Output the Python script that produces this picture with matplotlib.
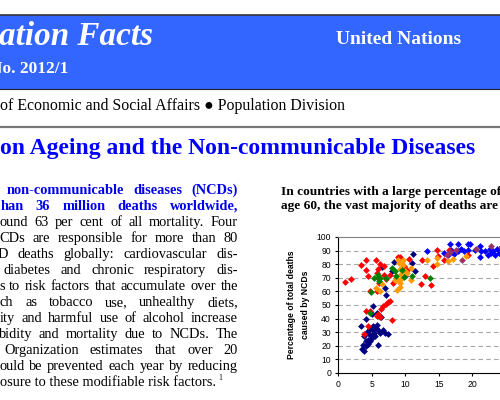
import matplotlib
matplotlib.use("Agg")
import matplotlib.pyplot as plt
from matplotlib.patches import Rectangle
from matplotlib.lines import Line2D

# scatter data: percentage of population aged 60+ vs. share of deaths caused by NCDs
red_x = [1.1, 1.9, 3.4, 4.1, 4.1, 4.4, 5.7, 6.0, 5.8, 6.2, 5.9, 6.1, 5.8, 4.8, 6.9, 6.9, 7.2, 7.7,
         8.2, 8.9, 9.3, 9.8, 10.2, 10.5, 12.5, 12.4, 13.0, 13.9, 14.1, 14.7, 14.9, 15.8, 16.5,
         6.0, 6.4, 6.7, 7.1, 7.4, 7.8, 6.3, 5.8, 8.0, 4.1, 4.7, 3.8, 4.5, 19.3]
red_y = [66.7, 69.0, 79.4, 83.3, 75.7, 71.6, 83.0, 76.7, 73.5, 80.0, 70.0, 66.0, 60.5, 60.0, 79.0,
         72.0, 69.4, 72.0, 66.4, 85.3, 85.0, 79.0, 76.0, 83.8, 83.3, 65.4, 71.6, 64.7, 78.7, 90.7,
         86.3, 82.8, 90.7, 43.6, 47.3, 49.0, 50.5, 52.0, 53.2, 41.2, 41.7, 39.2, 45.3, 45.3, 28.7,
         34.3, 86.5]

orange_x = [5.6, 6.2, 6.6, 8.9, 8.7, 9.0, 9.2, 9.3, 8.8, 9.5, 9.6, 9.7, 10.0, 10.3, 10.8, 10.8,
            13.2, 14.7, 14.8, 16.3, 17.1, 19.1, 9.3, 9.4, 8.5, 9.1]
orange_y = [62.5, 60.0, 65.4, 82.8, 71.0, 68.6, 66.0, 63.0, 60.8, 69.9, 83.3, 79.7, 74.8, 73.5,
            68.6, 77.2, 83.3, 84.6, 80.0, 82.1, 83.8, 86.3, 76.5, 73.0, 68.6, 80.9]

green_x = [4.9, 4.7, 5.3, 5.9, 6.1, 6.2, 7.2, 8.1, 8.5, 9.5, 9.8, 11.0, 13.7, 8.6]
green_y = [59.8, 44.0, 69.9, 72.3, 67.4, 69.9, 69.9, 77.0, 74.8, 76.0, 70.3, 71.6, 69.9, 71.6]

navy_x = [6.5, 8.3, 8.0, 9.9, 11.0, 11.4, 11.1, 7.0, 7.1,
          5.2, 5.8, 6.4, 5.0, 4.2, 3.4, 5.8, 4.3, 4.7, 5.2, 5.6, 6.0, 6.2, 5.5, 5.0, 4.4, 3.9,
          3.7, 3.6, 3.9, 4.2, 4.5, 4.8, 6.0, 7.5, 7.0, 6.7, 5.3, 4.7, 5.2, 4.1]
navy_y = [77.9, 81.4, 74.8, 71.0, 80.9, 74.8, 87.7, 62.5, 57.6,
          49.0, 44.0, 41.0, 43.6, 39.7, 34.3, 35.5, 29.9, 32.4, 34.8, 33.0, 31.9, 29.4, 27.0,
          25.7, 24.5, 27.5, 20.8, 17.6, 15.9, 19.6, 21.3, 23.3, 20.8, 28.9, 29.4, 31.9, 29.4,
          27.7, 31.9, 23.3]

blue_x = [13.3, 16.8, 16.7, 17.8, 18.3, 18.7, 19.3, 19.7, 19.4, 20.4, 21.1, 21.3, 21.9, 21.1,
          22.6, 23.1, 23.6, 23.9, 23.4, 22.8, 22.3, 24.3, 17.3, 17.9, 16.3, 15.8, 24.8, 25.3]
blue_y = [89.5, 90.7, 94.9, 95.1, 91.2, 89.5, 95.1, 95.1, 90.7, 90.7, 93.6, 89.5, 89.5, 85.3,
          91.2, 89.5, 91.2, 88.2, 87.0, 88.2, 87.0, 90.2, 87.7, 89.5, 87.0, 88.2, 88.0, 90.5]

purple_x = [16.2, 17.6, 18.4, 20.6, 22.8, 24.3, 16.6]
purple_y = [87.0, 90.2, 82.8, 91.2, 93.1, 92.6, 88.7]

y_ticks = [0, 10, 20, 30, 40, 50, 60, 70, 80, 90, 100]
x_ticks = [0, 5, 10, 15, 20, 25, 30]

body_lines = [
    ("non-communicable diseases (NCDs)", 7, True),
    ("han 36 million deaths worldwide,", 0.5, True),
    ("ound 63 per cent of all mortality.  Four", -0.5, False),
    ("CDs are responsible for more than 80", -1, False),
    ("D deaths globally: cardiovascular dis-", -2, False),
    ("diabetes and chronic respiratory dis-", 3.3, False),
    ("s to risk factors that accumulate over the", -1, False),
    ("ch as tobacco use, unhealthy diets,", 0, False),
    ("ity and harmful use of alcohol increase", 0, False),
    ("bidity and mortality due to NCDs.  The", -1, False),
    ("Organization estimates that over 20", 4, False),
    ("ould be prevented each year by reducing", -1, False),
]
last_line = "osure to these modifiable risk factors."

W, H = 500, 400
serif = "Liberation Serif"
sans = "Liberation Sans"


def fx(px):
    return px / W


def fy(py):
    return 1 - py / H


fig = plt.figure(figsize=(5, 4), dpi=100)
fig.patch.set_facecolor("white")

# banner
fig.patches.append(Rectangle((0, fy(89)), 1, (89 - 15) / H, transform=fig.transFigure,
                             facecolor="#3366FF", edgecolor="none"))
fig.lines.append(Line2D([0, 1], [fy(14.5), fy(14.5)], transform=fig.transFigure, color="#333333", lw=1.2))
fig.lines.append(Line2D([0, 1], [fy(89), fy(89)], transform=fig.transFigure, color="#222222", lw=0.8))
fig.text(fx(-1), fy(45), "ation Facts", color="white", fontsize=23.9, fontweight="bold",
         fontstyle="italic", family=serif, va="baseline")
fig.text(fx(336), fy(44.3), "United Nations", color="white", fontsize=14, fontweight="bold",
         family=serif, va="baseline")
fig.text(fx(-10), fy(73.3), "No. 2012/1", color="white", fontsize=12.5, fontweight="bold",
         family=serif, va="baseline")

fig.text(fx(-0.5), fy(110), "of Economic and Social Affairs \u25cf Population Division", color="black",
         fontsize=11.4, family=serif, va="baseline")
fig.lines.append(Line2D([0, 1], [fy(127), fy(127)], transform=fig.transFigure, color="#777777", lw=1.6))
fig.text(fx(-0.5), fy(154), "on Ageing and the Non-communicable Diseases", color="#0000FF",
         fontsize=17.0, fontweight="bold", family=serif, va="baseline")

# justified body column
body_size = 10.4
renderer = fig.canvas.get_renderer()
right_edge = 238
for i, (line, start, bold) in enumerate(body_lines):
    base = 194 + i * 16.0
    words = [w for w in line.split(" ") if w]
    texts = []
    for w in words:
        t = fig.text(0, fy(base), w, fontsize=body_size, family=serif, va="baseline",
                     fontweight="bold" if bold else "normal",
                     color="#0000EE" if bold else "black")
        texts.append(t)
    widths = [t.get_window_extent(renderer).width for t in texts]
    gap = (right_edge - start - sum(widths)) / max(len(words) - 1, 1)
    x = start
    for t, wd in zip(texts, widths):
        t.set_x(fx(x))
        x += wd + gap

base = 194 + len(body_lines) * 16.0
fig.text(fx(-0.5), fy(base), last_line, fontsize=body_size, family=serif, va="baseline")
fig.text(fx(218), fy(base - 6), "1", fontsize=5.5, family=serif, va="baseline")

# chart title
fig.text(fx(281), fy(195), "In countries with a large percentage of people over", fontsize=9.6,
         fontweight="bold", family=serif, va="baseline")
fig.text(fx(281), fy(209.3), "age 60, the vast majority of deaths are caused by NCDs", fontsize=9.6,
         fontweight="bold", family=serif, va="baseline")

# scatter chart
ax_left, ax_top, ax_bottom = 338, 237, 373
px_per_unit = 6.72
ax = fig.add_axes([fx(ax_left), fy(ax_bottom), 30 * px_per_unit / W, (ax_bottom - ax_top) / H])
ax.set_xlim(0, 30)
ax.set_ylim(0, 100)

mk = dict(marker="D", s=12, linewidths=0)
ax.scatter(navy_x, navy_y, color="#000080", **mk, zorder=3)
ax.scatter(blue_x, blue_y, color="#0000FF", **mk, zorder=3)
ax.scatter(red_x, red_y, color="#FF0000", **mk, zorder=3)
ax.scatter(orange_x, orange_y, color="#FF9900", **mk, zorder=3)
ax.scatter(green_x, green_y, color="#008000", **mk, zorder=3)
ax.scatter(purple_x, purple_y, color="#993366", **mk, zorder=3)

ax.set_yticks(y_ticks)
ax.set_xticks(x_ticks)
for yv in y_ticks[1:-1]:
    ax.axhline(yv, color="#A6A6A6", lw=0.8, dashes=(4, 3), zorder=1)
ax.tick_params(axis="both", direction="out", length=2.5, width=0.8, labelsize=6.2, pad=2.5)
for lab in ax.get_xticklabels() + ax.get_yticklabels():
    lab.set_family(sans)
ax.spines["left"].set_color("black")
ax.spines["bottom"].set_color("black")
ax.spines["top"].set_color("#808080")
ax.spines["right"].set_color("#808080")
ax.set_ylabel("Percentage of total deaths\ncaused by NCDs", fontsize=6.2, fontweight="bold",
              family=sans, labelpad=5, linespacing=1.6)

plt.savefig("out.png", dpi=100)
